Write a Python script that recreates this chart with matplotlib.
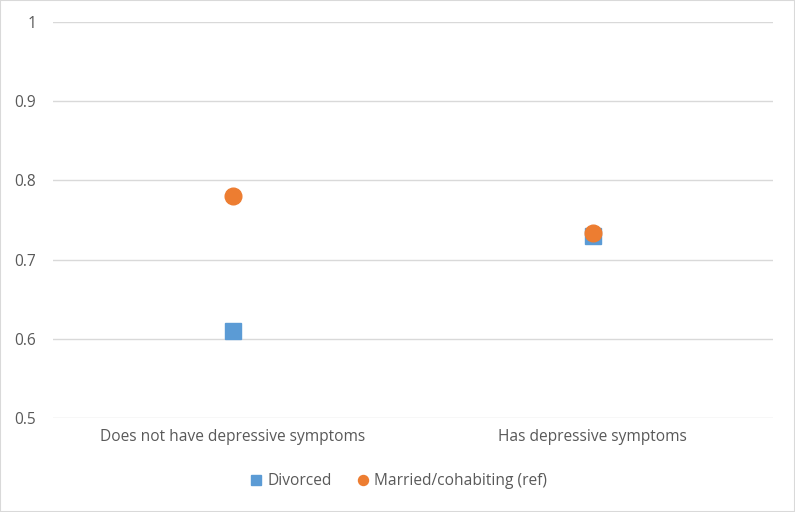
import matplotlib.pyplot as plt
import numpy as np

categories = ["Does not have depressive symptoms", "Has depressive symptoms"]
divorced = [0.61, 0.73]
married = [0.78, 0.733]
yticks = [0.5, 0.6, 0.7, 0.8, 0.9, 1.0]
ytick_labels = ["0.5", "0.6", "0.7", "0.8", "0.9", "1"]

plt.rcParams['font.family'] = ['Open Sans', 'DejaVu Sans']
text_col = '#595959'

fig = plt.figure(figsize=(7.95, 5.12), dpi=100)
ax = fig.add_axes([0.0667, 0.1836, 0.9053, 0.7734])

x = np.arange(len(categories))
ax.plot(x, divorced, linestyle='none', marker='s', markersize=11.5,
        color='#5B9BD5', label='Divorced', zorder=3)
ax.plot(x, married, linestyle='none', marker='o', markersize=12,
        color='#ED7D31', label='Married/cohabiting (ref)', zorder=4)

ax.set_xlim(-0.5, 1.5)
ax.set_ylim(0.5, 1.0)
ax.set_yticks(yticks)
ax.set_yticklabels(ytick_labels)
ax.set_xticks(x)
ax.set_xticklabels(categories)
ax.grid(axis='y', color='#D9D9D9', linewidth=1)
ax.set_axisbelow(True)
for s in ax.spines.values():
    s.set_visible(False)
ax.tick_params(length=0, labelsize=11.2, labelcolor=text_col)
ax.tick_params(axis='y', pad=12)
ax.tick_params(axis='x', pad=8)

fig.legend(loc='center', bbox_to_anchor=(0.5, 0.06), ncol=2, frameon=False,
           fontsize=11.2, labelcolor=text_col, markerscale=0.6,
           handletextpad=0.2, columnspacing=1.5, handlelength=1)

fig.patches.append(plt.Rectangle((0, 0), 1, 1, transform=fig.transFigure,
                                 fill=False, edgecolor='#D9D9D9', linewidth=1.5))

fig.savefig('out.png', dpi=100)
